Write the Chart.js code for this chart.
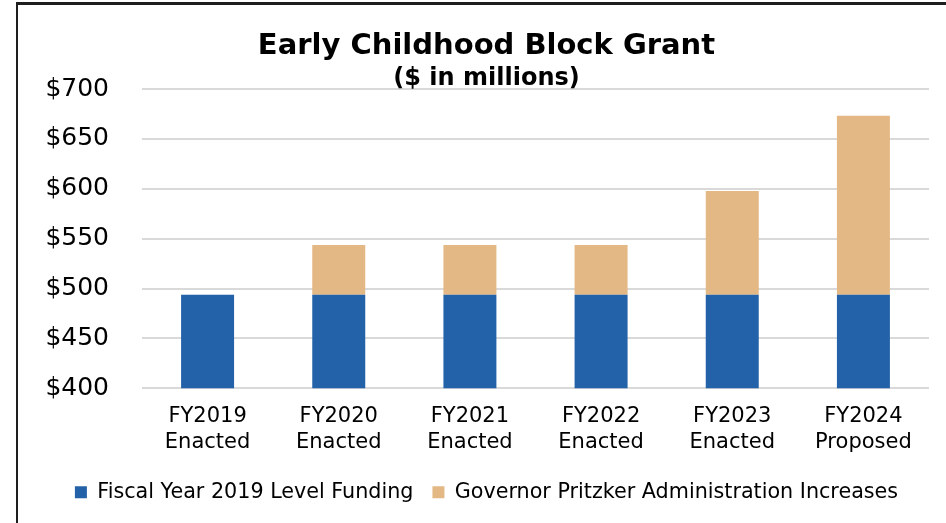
<!DOCTYPE html>
<html lang="en">
<head>
  <meta charset="UTF-8" />
  <title>Early Childhood Block Grant</title>
  <script src="https://cdn.jsdelivr.net/npm/chart.js"></script>
  <style>
    body {
      margin: 0;
      background-color: #ffffff;
      overflow: hidden;
    }
    #wrap {
      position: relative;
      width: 946px;
      height: 523px;
    }
    #frame {
      position: absolute;
      left: 16px;
      top: 2px;
      width: 960px;
      height: 560px;
      border-top: 3px solid #1e1e1e;
      border-left: 2px solid #1e1e1e;
      pointer-events: none;
    }
  </style>
</head>
<body>
  <div id="wrap">
    <canvas id="grantChart"></canvas>
    <div id="frame"></div>
  </div>

  <script>
    const categories = [
      ["FY2019", "Enacted"],
      ["FY2020", "Enacted"],
      ["FY2021", "Enacted"],
      ["FY2022", "Enacted"],
      ["FY2023", "Enacted"],
      ["FY2024", "Proposed"]
    ];
    const baseFunding = [493.7, 493.7, 493.7, 493.7, 493.7, 493.7];
    const increases = [0, 50, 50, 50, 104, 179.4];
    const yTicks = [400, 450, 500, 550, 600, 650, 700];

    const ctx = document.getElementById("grantChart").getContext("2d");

    new Chart(ctx, {
      type: "bar",
      data: {
        labels: categories,
        datasets: [
          {
            label: "Fiscal Year 2019 Level Funding",
            data: baseFunding,
            backgroundColor: "#2362a9",
            barPercentage: 0.404,
            categoryPercentage: 1
          },
          {
            label: "Governor Pritzker Administration Increases",
            data: increases,
            backgroundColor: "#e4b884",
            barPercentage: 0.404,
            categoryPercentage: 1
          }
        ]
      },
      options: {
        responsive: true,
        maintainAspectRatio: false,
        animation: false,
        layout: {
          padding: { left: 44, right: 17, top: 0, bottom: 10.5 }
        },
        scales: {
          x: {
            stacked: true,
            grid: { display: false },
            border: { display: false },
            ticks: {
              color: "#000000",
              padding: 7,
              maxRotation: 0,
              font: { family: "DejaVu Sans", size: 21, lineHeight: 1.238 }
            },
            afterFit: (scale) => { scale.height = 74.5; }
          },
          y: {
            stacked: true,
            min: yTicks[0],
            max: yTicks[yTicks.length - 1],
            afterBuildTicks: (scale) => {
              scale.ticks = yTicks.map(v => ({ value: v }));
            },
            grid: {
              color: "#d9d9d9",
              lineWidth: 2,
              drawTicks: false
            },
            border: { display: false },
            ticks: {
              color: "#000000",
              padding: 33,
              font: { family: "DejaVu Sans", size: 25 },
              callback: (v) => "$" + v
            },
            afterFit: (scale) => { scale.width = 98; }
          }
        },
        plugins: {
          title: {
            display: true,
            text: "Early Childhood Block Grant",
            color: "#000000",
            font: { family: "DejaVu Sans", size: 29, weight: "bold", lineHeight: 1.2 },
            padding: { top: 29, bottom: 0 }
          },
          subtitle: {
            display: true,
            text: "($ in millions)",
            color: "#000000",
            font: { family: "DejaVu Sans", size: 24, weight: "bold", lineHeight: 0.875 },
            padding: { top: 4.2, bottom: 0 }
          },
          legend: {
            position: "bottom",
            labels: {
              color: "#000000",
              boxWidth: 12,
              boxHeight: 12,
              padding: 19,
              font: { family: "DejaVu Sans", size: 20.7 }
            }
          },
          tooltip: { enabled: false }
        }
      }
    });
  </script>
</body>
</html>
